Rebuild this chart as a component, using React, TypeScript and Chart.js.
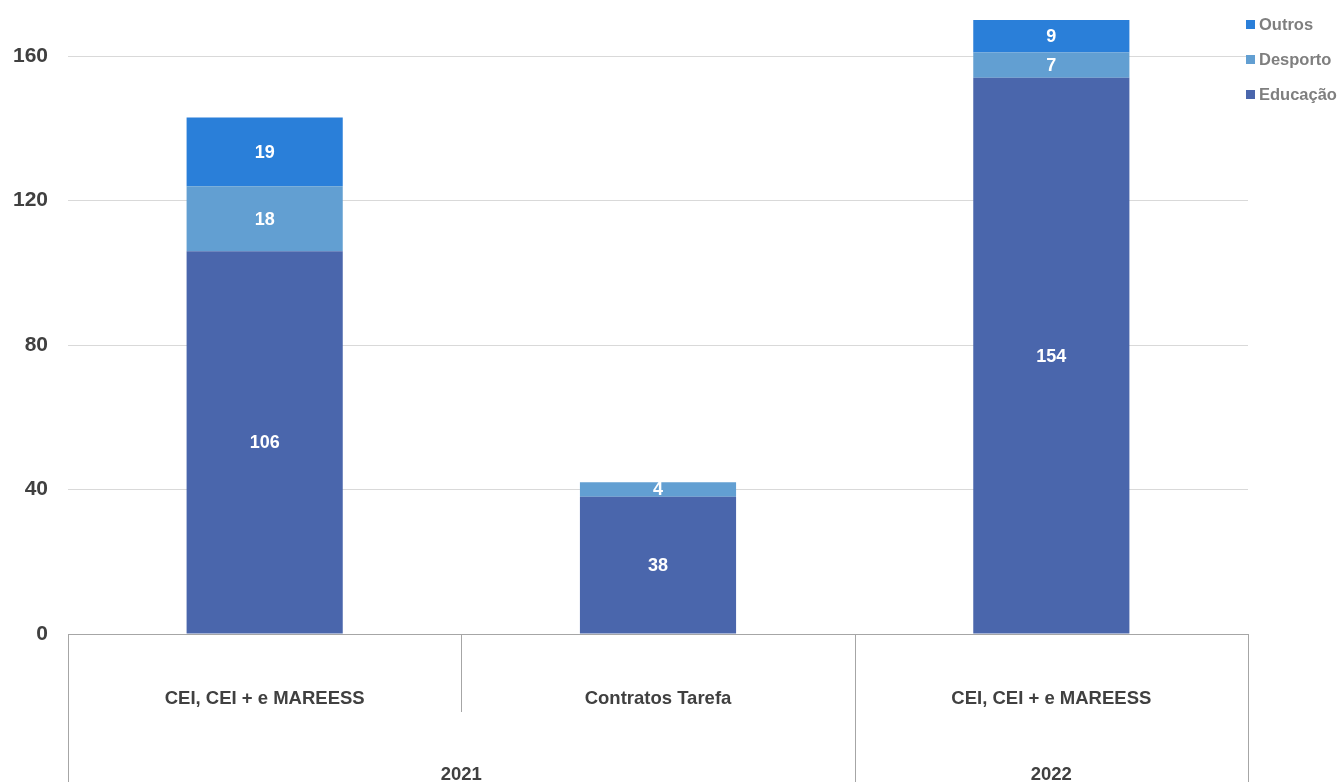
import React, { useEffect, useRef } from "react";
import { Chart, registerables } from "chart.js";

Chart.register(...registerables);

const categories = ["CEI, CEI + e MAREESS", "Contratos Tarefa", "CEI, CEI + e MAREESS"];
const groups = ["2021", "2021", "2022"];
const educacao = [106, 38, 154];
const desporto = [18, 4, 7];
const outros: (number | null)[] = [19, null, 9];
const yTicks = [0, 40, 80, 120, 160];

const FONT = "'Liberation Sans', Arial, sans-serif";

const overlayPlugin = {
  id: "overlay",
  afterDatasetsDraw(chart: any) {
    const ctx = chart.ctx;
    ctx.save();
    ctx.fillStyle = "#ffffff";
    ctx.font = `bold 18px ${FONT}`;
    ctx.textAlign = "center";
    ctx.textBaseline = "middle";
    chart.data.datasets.forEach((ds: any, di: number) => {
      const meta = chart.getDatasetMeta(di);
      meta.data.forEach((bar: any, i: number) => {
        const v = ds.data[i];
        if (v == null || v === 0) return;
        const { x, y, base } = bar.getProps(["x", "y", "base"], true);
        ctx.fillText(String(v), x, (y + base) / 2 + 1);
      });
    });
    ctx.restore();
  },
  afterDraw(chart: any) {
    const ctx = chart.ctx;
    const area = chart.chartArea;
    const xs = chart.scales.x;
    const H = chart.height;
    const n = categories.length;
    const step = (area.right - area.left) / n;
    const bounds: number[] = [];
    for (let i = 0; i <= n; i++) bounds.push(area.left + step * i);
    ctx.save();
    ctx.strokeStyle = "#a6a6a6";
    ctx.lineWidth = 1;
    ctx.beginPath();
    ctx.moveTo(area.left, Math.round(area.bottom) + 0.5);
    ctx.lineTo(area.right, Math.round(area.bottom) + 0.5);
    ctx.stroke();
    for (let i = 0; i <= n; i++) {
      const full = i === 0 || i === n || groups[i] !== groups[i - 1];
      const bx = Math.round(bounds[i]) + 0.5;
      ctx.beginPath();
      ctx.moveTo(bx, area.bottom);
      ctx.lineTo(bx, full ? H : area.bottom + 78);
      ctx.stroke();
    }
    ctx.fillStyle = "#404040";
    ctx.font = `bold 18.5px ${FONT}`;
    ctx.textAlign = "center";
    ctx.textBaseline = "middle";
    categories.forEach((c, i) => {
      ctx.fillText(c, xs.getPixelForValue(i), area.bottom + 65);
    });
    let s = 0;
    for (let i = 1; i <= n; i++) {
      if (i === n || groups[i] !== groups[s]) {
        const cx = (bounds[s] + bounds[i]) / 2;
        ctx.fillText(groups[s], cx, area.bottom + 141);
        s = i;
      }
    }
    const items = [...chart.data.datasets].map((d: any, i: number) => ({ d, i })).reverse();
    ctx.font = `bold 16.5px ${FONT}`;
    ctx.textAlign = "left";
    items.forEach((it, k) => {
      const cy = 24 + k * 35;
      ctx.fillStyle = it.d.backgroundColor;
      ctx.fillRect(1246, cy - 4, 9, 9);
      ctx.fillStyle = "#7f7f7f";
      ctx.fillText(it.d.label, 1259, cy + 1);
    });
    ctx.restore();
  },
};

export default function App() {
  const ref = useRef<HTMLCanvasElement>(null);
  useEffect(() => {
    if (!ref.current) return;
    const chart = new Chart(ref.current, {
      type: "bar",
      data: {
        labels: categories,
        datasets: [
          { label: "Educação", data: educacao, backgroundColor: "#4a66ac" },
          { label: "Desporto", data: desporto, backgroundColor: "#629fd2" },
          { label: "Outros", data: outros, backgroundColor: "#2a7fd9" },
        ],
      },
      options: {
        responsive: false,
        animation: false,
        layout: { padding: { top: 20, bottom: 148, right: 91, left: 0 } },
        datasets: { bar: { barPercentage: 1, categoryPercentage: 0.397, borderWidth: 0 } },
        plugins: { legend: { display: false }, tooltip: { enabled: false } },
        scales: {
          x: { stacked: true, display: false },
          y: {
            stacked: true,
            min: 0,
            max: 170,
            afterBuildTicks: (axis: any) => {
              axis.ticks = yTicks.map((v) => ({ value: v }));
            },
            afterFit: (axis: any) => {
              axis.width = 68;
              axis.paddingTop = 0;
              axis.paddingBottom = 0;
            },
            border: { display: false },
            grid: {
              drawTicks: false,
              color: (c: any) => (c.tick && c.tick.value === 0 ? "rgba(0,0,0,0)" : "#d9d9d9"),
            },
            ticks: {
              padding: 20,
              color: "#404040",
              font: { family: FONT, size: 21, weight: "bold" },
            },
          },
        },
      },
      plugins: [overlayPlugin],
    });
    return () => chart.destroy();
  }, []);
  return (
    <div style={{ position: "absolute", left: 0, top: 0, width: 1339, height: 782, background: "#fff" }}>
      <canvas ref={ref} width={1339} height={782} style={{ display: "block" }} />
    </div>
  );
}
